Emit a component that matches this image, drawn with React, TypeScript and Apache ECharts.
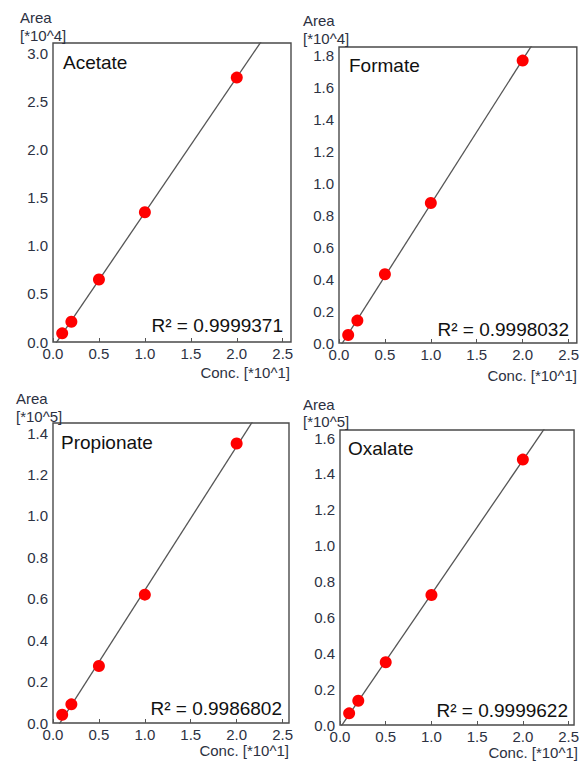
import React, { useEffect, useRef } from "react";
import * as echarts from "echarts";

// ---- Data ----
const concentrations = [0.1, 0.2, 0.5, 1.0, 2.0];
const acetateArea = [0.09, 0.21, 0.65, 1.35, 2.75];
const formateArea = [0.05, 0.14, 0.43, 0.875, 1.765];
const propionateArea = [0.04, 0.09, 0.275, 0.62, 1.35];
const oxalateArea = [0.065, 0.135, 0.35, 0.725, 1.48];

const analytes = ["Acetate", "Formate", "Propionate", "Oxalate"];
const areaSeries = [acetateArea, formateArea, propionateArea, oxalateArea];
const rSquared = ["0.9999371", "0.9998032", "0.9986802", "0.9999622"];
const yUnitLabels = ["[*10^4]", "[*10^4]", "[*10^5]", "[*10^5]"];
const yMaxValues = [3.11, 1.85, 1.449, 1.645];
const yTickIntervals = [0.5, 0.2, 0.2, 0.2];
const xMaxValues = [2.59, 2.59, 2.57, 2.56];
const xTickInterval = 0.5;
const xAxisTitle = "Conc. [*10^1]";
const yAxisTitle = "Area";

// ---- Layout (pixels) ----
const layout = [
  { left: 53, top: 43, width: 238, height: 299, nameX: 20, areaY: 17, unitY: 35, titleX: 63, titleY: 62, r2X: 283, r2Y: 325, concX: 290, concY: 372 },
  { left: 339, top: 47, width: 238, height: 296, nameX: 303, areaY: 20, unitY: 38, titleX: 349, titleY: 65, r2X: 569, r2Y: 329, concX: 577, concY: 375 },
  { left: 53, top: 423, width: 236, height: 300, nameX: 16, areaY: 398, unitY: 416, titleX: 61, titleY: 442, r2X: 282, r2Y: 708, concX: 289, concY: 750 },
  { left: 340, top: 430, width: 238, height: 295, nameX: 303, areaY: 404, unitY: 421, titleX: 348, titleY: 448, r2X: 568, r2Y: 710, concX: 578, concY: 752 },
];

const FONT = "'Liberation Sans', Arial, sans-serif";
const LABEL_COLOR = "#2c3142";
const SMALL = 15;

function linearFit(xs: number[], ys: number[]) {
  const n = xs.length;
  const mx = xs.reduce((a, b) => a + b, 0) / n;
  const my = ys.reduce((a, b) => a + b, 0) / n;
  let sxy = 0;
  let sxx = 0;
  for (let i = 0; i < n; i++) {
    sxy += (xs[i] - mx) * (ys[i] - my);
    sxx += (xs[i] - mx) * (xs[i] - mx);
  }
  const slope = sxy / sxx;
  return { slope, intercept: my - slope * mx };
}

function tickFormatter(interval: number) {
  return (v: number) => {
    const r = v / interval;
    return Math.abs(r - Math.round(r)) < 1e-6 ? v.toFixed(1) : "";
  };
}

export default function App() {
  const ref = useRef<HTMLDivElement>(null);

  useEffect(() => {
    if (!ref.current) return;
    const chart = echarts.init(ref.current, undefined, { renderer: "svg" });

    const grid: any[] = [];
    const xAxis: any[] = [];
    const yAxis: any[] = [];
    const series: any[] = [];
    const graphic: any[] = [];

    analytes.forEach((name, i) => {
      const L = layout[i];
      grid.push({
        left: L.left,
        top: L.top,
        width: L.width,
        height: L.height,
        show: true,
        borderColor: "#4a4a4a",
        borderWidth: 1.4,
        backgroundColor: "#fff",
      });
      xAxis.push({
        type: "value",
        gridIndex: i,
        min: 0,
        max: xMaxValues[i],
        interval: xTickInterval,
        axisLine: { show: false },
        axisTick: { show: true, inside: true, length: 4, lineStyle: { color: "#555", width: 1 } },
        splitLine: { show: false },
        axisLabel: {
          formatter: tickFormatter(xTickInterval),
          fontSize: SMALL,
          fontFamily: FONT,
          color: LABEL_COLOR,
          margin: 4,
          showMaxLabel: false,
        },
      });
      yAxis.push({
        type: "value",
        gridIndex: i,
        min: 0,
        max: yMaxValues[i],
        interval: yTickIntervals[i],
        axisLine: { show: false },
        axisTick: { show: false },
        splitLine: { show: false },
        axisLabel: {
          formatter: tickFormatter(yTickIntervals[i]),
          fontSize: SMALL,
          fontFamily: FONT,
          color: LABEL_COLOR,
          margin: 5,
          showMaxLabel: false,
        },
      });

      const ys = areaSeries[i];
      const fit = linearFit(concentrations, ys);
      const xEnd = xMaxValues[i];
      series.push({
        type: "line",
        xAxisIndex: i,
        yAxisIndex: i,
        data: [
          [0, fit.intercept],
          [xEnd, fit.intercept + fit.slope * xEnd],
        ],
        symbol: "none",
        clip: true,
        lineStyle: { color: "#555", width: 1.3 },
        z: 2,
        silent: true,
      });
      series.push({
        type: "scatter",
        name,
        xAxisIndex: i,
        yAxisIndex: i,
        data: concentrations.map((c, k) => [c, ys[k]]),
        symbol: "circle",
        symbolSize: 12,
        itemStyle: { color: "#ff0000", opacity: 1 },
        z: 3,
        clip: false,
      });

      const txt = (x: number, y: number, text: string, size: number, align: string, color: string) => ({
        type: "text",
        x,
        y,
        z: 10,
        style: {
          text,
          fontSize: size,
          fontFamily: FONT,
          fill: color,
          align,
          verticalAlign: "middle",
        },
      });
      graphic.push(txt(L.nameX, L.areaY, yAxisTitle, SMALL, "left", LABEL_COLOR));
      graphic.push(txt(L.nameX, L.unitY, yUnitLabels[i], SMALL, "left", LABEL_COLOR));
      graphic.push(txt(L.titleX, L.titleY, name, 19, "left", "#111"));
      graphic.push(txt(L.r2X, L.r2Y, "R² = " + rSquared[i], 19, "right", "#111"));
      graphic.push(txt(L.concX, L.concY, xAxisTitle, SMALL, "right", LABEL_COLOR));
    });

    chart.setOption({
      animation: false,
      backgroundColor: "#fff",
      grid,
      xAxis,
      yAxis,
      series,
      graphic,
    });

    return () => chart.dispose();
  }, []);

  return (
    <div
      ref={ref}
      style={{ position: "fixed", left: 0, top: 0, width: 582, height: 761 }}
    />
  );
}
